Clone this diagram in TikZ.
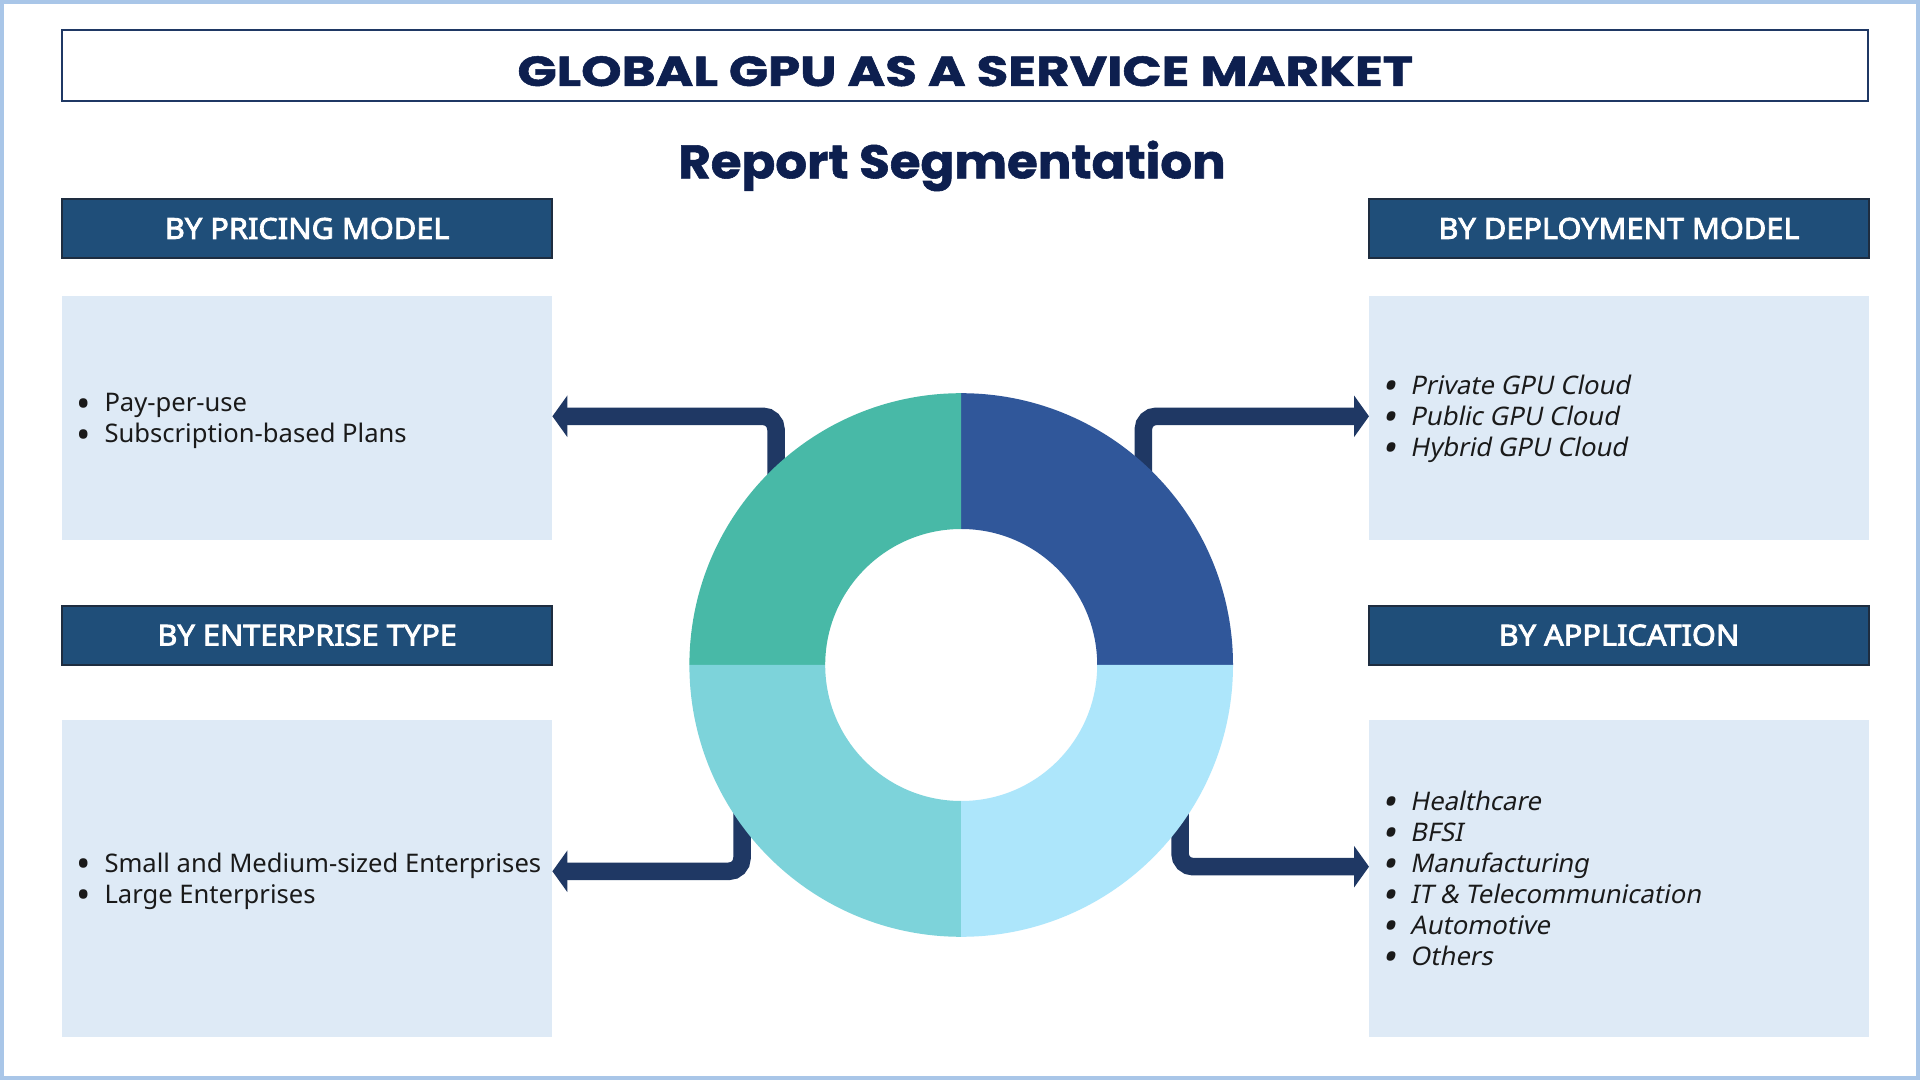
\documentclass[tikz,border=0pt]{standalone}
\usepackage{graphicx}
\usepackage{fontspec}
\setmainfont{Noto Sans}
\newfontfamily\titlefont{Poppins}[BoldFeatures={FakeBold=1.2}]
\newfontfamily\hdrfont{Noto Sans}[FakeBold=2.8,FakeStretch=1.06]
\newfontfamily\slantfont{Noto Sans}[FakeSlant=0.2]
\usetikzlibrary{arrows.meta,calc}
\definecolor{navytxt}{HTML}{0D1F4F}
\definecolor{frameblue}{HTML}{A9C6E8}
\definecolor{hdrfill}{HTML}{1F4E79}
\definecolor{hdrline}{HTML}{1E2D40}
\definecolor{boxfill}{HTML}{DEEAF6}
\definecolor{arrowc}{HTML}{1F3864}
\definecolor{qTL}{HTML}{48B9A7}
\definecolor{qTR}{HTML}{30579A}
\definecolor{qBL}{HTML}{7DD3DA}
\definecolor{qBR}{HTML}{ADE6FB}
\definecolor{bodytxt}{HTML}{1A1A1A}
\newcommand\bitem[1]{\makebox[25pt][l]{\makebox[8pt][c]{\raisebox{-5.5pt}[0pt][0pt]{\scalebox{1.5}{•}}}}#1}
\newcommand\blist[1]{\begin{tabular}[t]{@{}l@{}}#1\end{tabular}}
\newcommand\donutq[3]{\fill[#1] ($(donut.center)+(#2:271.8pt)$) arc[start angle=#2,end angle=#3,radius=271.8pt] -- ($(donut.center)+(#3:136pt)$) arc[start angle=#3,end angle=#2,radius=136pt] -- cycle;}
\begin{document}
\begin{tikzpicture}[x=1pt,y=1pt,
  hdr/.style={draw=hdrline, line width=2pt, fill=hdrfill, text=white,
    font=\hdrfont\fontsize{29}{33}\selectfont, minimum height=59pt,
    inner sep=0pt, text height=20.7pt, text depth=0pt},
  cbox/.style={fill=boxfill, inner sep=0pt},
  item/.style={anchor=base west, inner sep=0pt, text=bodytxt, font=\fontsize{25.6}{31}\selectfont},
  itemit/.style={item, font=\slantfont\fontsize{25.6}{31}\selectfont},
  conn/.style={draw=arrowc, line width=17.5pt, rounded corners=13pt,
    -{Triangle[length=15pt,width=41pt]}},
  ttl/.style={anchor=base, inner sep=0pt, text=navytxt}
  ]
\useasboundingbox (0,0) rectangle (1920,1080);
\fill[white] (0,0) rectangle (1920,1080);
\draw[frameblue, line width=4pt] (2,2) rectangle (1918,1078);

% title
\node[draw=arrowc, line width=2pt, minimum width=1806pt, minimum height=71pt, inner sep=0pt] (tbox) at (965.3,1014.8) {};
\node[ttl, font=\titlefont\bfseries\fontsize{42}{48}\selectfont] (title) at (965.3,994) {\scalebox{1.225}[1]{GLOBAL GPU AS A SERVICE MARKET}};
\node[ttl, font=\titlefont\bfseries\fontsize{47}{54}\selectfont] (subtitle) at (952,901.7) {\scalebox{1.06}[1]{Report Segmentation}};

% headers
\node[hdr, minimum width=490pt] (pm) at (307.2,851.5) {BY PRICING MODEL};
\node[hdr, minimum width=499.6pt] (dm) at (1619,851.5) {BY DEPLOYMENT MODEL};
\node[hdr, minimum width=490pt] (et) at (307.2,444.8) {BY ENTERPRISE TYPE};
\node[hdr, minimum width=499.6pt] (ap) at (1619,444.8) {BY APPLICATION};

% content boxes
\node[cbox, minimum width=490pt, minimum height=244pt] (pc) at (307.2,662) {};
\node[cbox, minimum width=499.6pt, minimum height=244pt] (dc) at (1619,662) {};
\node[cbox, minimum width=490pt, minimum height=317pt] (ec) at (307.2,201.5) {};
\node[cbox, minimum width=499.6pt, minimum height=317pt] (ac) at (1619,201.5) {};

% item lists
\node[item] (plist) at (79.3,668.3) {\blist{\bitem{Pay-per-use}\\ \bitem{Subscription-based Plans}}};
\node[itemit] (dlist) at (1385,685.7) {\blist{\bitem{Private GPU Cloud}\\ \bitem{Public GPU Cloud}\\ \bitem{Hybrid GPU Cloud}}};
\node[item] (elist) at (79.3,207.7) {\blist{\bitem{Small and Medium-sized Enterprises}\\ \bitem{Large Enterprises}}};
\node[itemit] (alist) at (1385,269.7) {\blist{\bitem{Healthcare}\\ \bitem{BFSI}\\ \bitem{Manufacturing}\\ \bitem{IT \& Telecommunication}\\ \bitem{Automotive}\\ \bitem{Others}}};

% donut placeholder node
\node[circle, minimum size=543.6pt, inner sep=0pt] (donut) at (961.2,415) {};

% connectors
\coordinate (tlsrc) at (776,560);
\coordinate (trsrc) at (1143.3,560);
\coordinate (blsrc) at (742,280);
\coordinate (brsrc) at (1180,280);
\draw[conn] (tlsrc) |- ([yshift=1.7pt]pc.east);
\draw[conn] (trsrc) |- ([yshift=1.7pt]dc.west);
\draw[conn] (blsrc) |- ([yshift=7.2pt]ec.east);
\draw[conn] (brsrc) |- ([yshift=11.8pt]ac.west);

% donut
\donutq{qTR}{0}{90}
\donutq{qTL}{90}{180}
\donutq{qBL}{180}{270}
\donutq{qBR}{270}{360}
\end{tikzpicture}
\end{document}
